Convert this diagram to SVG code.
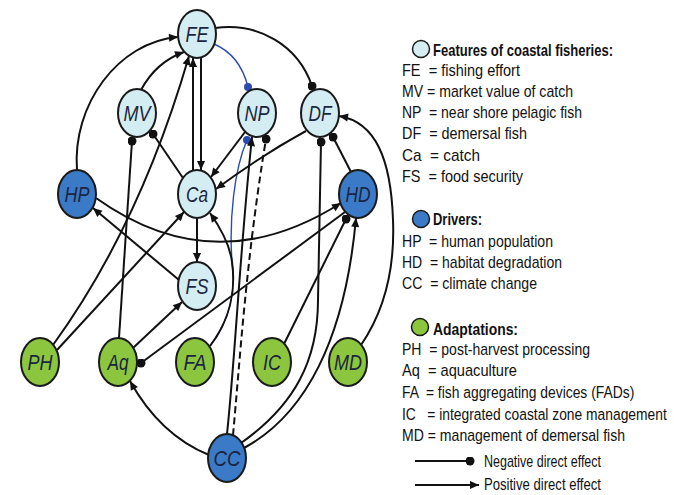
<svg xmlns="http://www.w3.org/2000/svg" width="674" height="495" viewBox="0 0 674 495">
<defs>
<style>
.e{fill:none;stroke:#111;stroke-width:2}
.b{fill:none;stroke:#2b4bb0;stroke-width:1.4}
.pos{marker-end:url(#arr)}
.neg{marker-end:url(#dot)}
.nd ellipse{stroke:#1a1a1a;stroke-width:2}
.f ellipse{fill:#d4edf3}
.d ellipse{fill:#3b7ac6}
.a ellipse{fill:#8cc63f}
.nd text{font-family:"Liberation Sans",Arial,sans-serif;font-style:italic;font-size:22px;fill:#1b2540;text-anchor:middle}
.lg text{font-family:"Liberation Sans",Arial,sans-serif;font-size:17px;fill:#111;white-space:pre}
.lg .h{font-weight:bold}
</style>
<marker id="arr" viewBox="0 0 10 10" refX="10" refY="5" markerWidth="11" markerHeight="9" markerUnits="userSpaceOnUse" orient="auto"><path d="M0,0.5 L10,5 L0,9.5 z" fill="#111"/></marker>
<marker id="dot" viewBox="0 0 10 10" refX="5" refY="5" markerWidth="9" markerHeight="9" markerUnits="userSpaceOnUse"><circle cx="5" cy="5" r="5" fill="#111"/></marker>
<marker id="bdot" viewBox="0 0 10 10" refX="5" refY="5" markerWidth="8" markerHeight="8" markerUnits="userSpaceOnUse"><circle cx="5" cy="5" r="5" fill="#2b4bb0"/></marker>
</defs>
<rect width="674" height="495" fill="#fff"/>
<g id="connectors">
<path class="b" d="M210,346 C230,320 236,290 232,262 C229,220 234,170 247,140" marker-end="url(#bdot)"/>
<path class="b" d="M214,44 Q240,55 248,87" marker-end="url(#bdot)"/>
<path class="e pos" d="M77,170 C72,105 118,42 178,37"/>
<path class="e pos" d="M141,90 Q156,62 184,52"/>
<path class="e pos" d="M53,345 Q140,225 189,56"/>
<path class="e pos" d="M193,170 L193,58"/>
<path class="e pos" d="M201,58 L201,170"/>
<path class="e neg" d="M215,28 C258,22 298,45 312,86"/>
<path class="e neg" d="M183,178 L153,134"/>
<path class="e neg" d="M119,338 L132,141"/>
<path class="e pos" d="M245,132 L211,177"/>
<path class="e pos" d="M306,131 Q262,155 216,189"/>
<path class="e pos" d="M197,218 L197,262"/>
<path class="e pos" d="M179,280 L93,208"/>
<path class="e pos" d="M96,198 Q215,283 341,203"/>
<path class="e pos" d="M133,348 L182,302"/>
<path class="e pos" d="M57,350 L184,212"/>
<path class="e neg" d="M345,212 L141,363"/>
<path class="e neg" d="M284,344 L346,219"/>
<path class="e pos" d="M244,448 C305,415 345,340 356,218"/>
<path class="e neg" d="M241,443 C295,405 318,360 318,300 L321,142"/>
<path class="e pos" d="M227,434 C235,360 240,250 252,137"/>
<path class="e neg" d="M233,435 C240,360 246,260 266,139" stroke-dasharray="7,4"/>
<path class="e pos" d="M210,346 C230,320 236,290 232,262 C230,245 222,230 210,213"/>
<path class="e pos" d="M209,455 Q160,435 130,381"/>
<path class="e pos" d="M361,345 C385,310 395,270 393,220 C391,160 376,122 339,116"/>
<path class="e neg" d="M351,172 L333,137"/>
</g>
<g id="FE" class="nd f"><ellipse cx="197" cy="34" rx="19" ry="24"/><text x="197" y="42" textLength="23" lengthAdjust="spacingAndGlyphs">FE</text></g>
<g id="MV" class="nd f"><ellipse cx="137" cy="113" rx="19" ry="24"/><text x="137" y="121" textLength="27" lengthAdjust="spacingAndGlyphs">MV</text></g>
<g id="NP" class="nd f"><ellipse cx="257" cy="113" rx="19" ry="24"/><text x="257" y="121" textLength="25" lengthAdjust="spacingAndGlyphs">NP</text></g>
<g id="DF" class="nd f"><ellipse cx="320" cy="113" rx="19" ry="24"/><text x="320" y="121" textLength="23" lengthAdjust="spacingAndGlyphs">DF</text></g>
<g id="Ca" class="nd f"><ellipse cx="197" cy="194" rx="19" ry="24"/><text x="197" y="202" textLength="22" lengthAdjust="spacingAndGlyphs">Ca</text></g>
<g id="HP" class="nd d"><ellipse cx="77" cy="194" rx="19" ry="24"/><text x="77" y="202" textLength="25" lengthAdjust="spacingAndGlyphs">HP</text></g>
<g id="HD" class="nd d"><ellipse cx="358" cy="194" rx="19" ry="24"/><text x="358" y="202" textLength="25" lengthAdjust="spacingAndGlyphs">HD</text></g>
<g id="FS" class="nd f"><ellipse cx="197" cy="286" rx="19" ry="24"/><text x="197" y="294" textLength="23" lengthAdjust="spacingAndGlyphs">FS</text></g>
<g id="PH" class="nd a"><ellipse cx="40" cy="362" rx="19" ry="24"/><text x="40" y="370" textLength="25" lengthAdjust="spacingAndGlyphs">PH</text></g>
<g id="Aq" class="nd a"><ellipse cx="118" cy="362" rx="19" ry="24"/><text x="118" y="370" textLength="21" lengthAdjust="spacingAndGlyphs">Aq</text></g>
<g id="FA" class="nd a"><ellipse cx="195" cy="362" rx="19" ry="24"/><text x="195" y="370" textLength="23" lengthAdjust="spacingAndGlyphs">FA</text></g>
<g id="IC" class="nd a"><ellipse cx="272" cy="362" rx="19" ry="24"/><text x="272" y="370" textLength="18" lengthAdjust="spacingAndGlyphs">IC</text></g>
<g id="MD" class="nd a"><ellipse cx="348" cy="362" rx="19" ry="24"/><text x="348" y="370" textLength="28" lengthAdjust="spacingAndGlyphs">MD</text></g>
<g id="CC" class="nd d"><ellipse cx="227" cy="458" rx="19" ry="24"/><text x="227" y="466" textLength="27" lengthAdjust="spacingAndGlyphs">CC</text></g>
<g id="legend" class="lg">
<circle cx="421" cy="49" r="8.5" fill="#d4edf3" stroke="#1a1a1a" stroke-width="1.5"/>
<text class="h" x="433" y="56" textLength="180" lengthAdjust="spacingAndGlyphs">Features of coastal fisheries:</text>
<text x="402" y="76" textLength="118" lengthAdjust="spacingAndGlyphs">FE  = fishing effort</text>
<text x="402" y="97" textLength="171" lengthAdjust="spacingAndGlyphs">MV = market value of catch</text>
<text x="402" y="118" textLength="180" lengthAdjust="spacingAndGlyphs">NP  = near shore pelagic fish</text>
<text x="402" y="139" textLength="125" lengthAdjust="spacingAndGlyphs">DF  = demersal fish</text>
<text x="402" y="161" textLength="78" lengthAdjust="spacingAndGlyphs">Ca  = catch</text>
<text x="402" y="182" textLength="121" lengthAdjust="spacingAndGlyphs">FS  = food security</text>
<circle cx="421" cy="219" r="8.5" fill="#3b7ac6" stroke="#1a1a1a" stroke-width="1.5"/>
<text class="h" x="433" y="225" textLength="49" lengthAdjust="spacingAndGlyphs">Drivers:</text>
<text x="402" y="247" textLength="151" lengthAdjust="spacingAndGlyphs">HP  = human population</text>
<text x="402" y="268" textLength="160" lengthAdjust="spacingAndGlyphs">HD  = habitat degradation</text>
<text x="402" y="289" textLength="135" lengthAdjust="spacingAndGlyphs">CC  = climate change</text>
<circle cx="420" cy="327" r="8.5" fill="#8cc63f" stroke="#1a1a1a" stroke-width="1.5"/>
<text class="h" x="433" y="335" textLength="85" lengthAdjust="spacingAndGlyphs">Adaptations:</text>
<text x="402" y="355" textLength="188" lengthAdjust="spacingAndGlyphs">PH  = post-harvest processing</text>
<text x="402" y="376" textLength="115" lengthAdjust="spacingAndGlyphs">Aq  = aquaculture</text>
<text transform="translate(402,398) scale(0.816,1)" x="0" y="0">FA  = fish aggregating devices (FADs)</text>
<text transform="translate(402,420) scale(0.814,1)" x="0" y="0">IC   = integrated coastal zone management</text>
<text x="402" y="441" textLength="223" lengthAdjust="spacingAndGlyphs">MD = management of demersal fish</text>
<path class="e neg" d="M415,461 L470,461"/>
<text x="484" y="467" textLength="117" lengthAdjust="spacingAndGlyphs">Negative direct effect</text>
<path class="e pos" d="M415,485 L479,485"/>
<text x="484" y="490" textLength="117" lengthAdjust="spacingAndGlyphs">Positive direct effect</text>
</g>
</svg>
